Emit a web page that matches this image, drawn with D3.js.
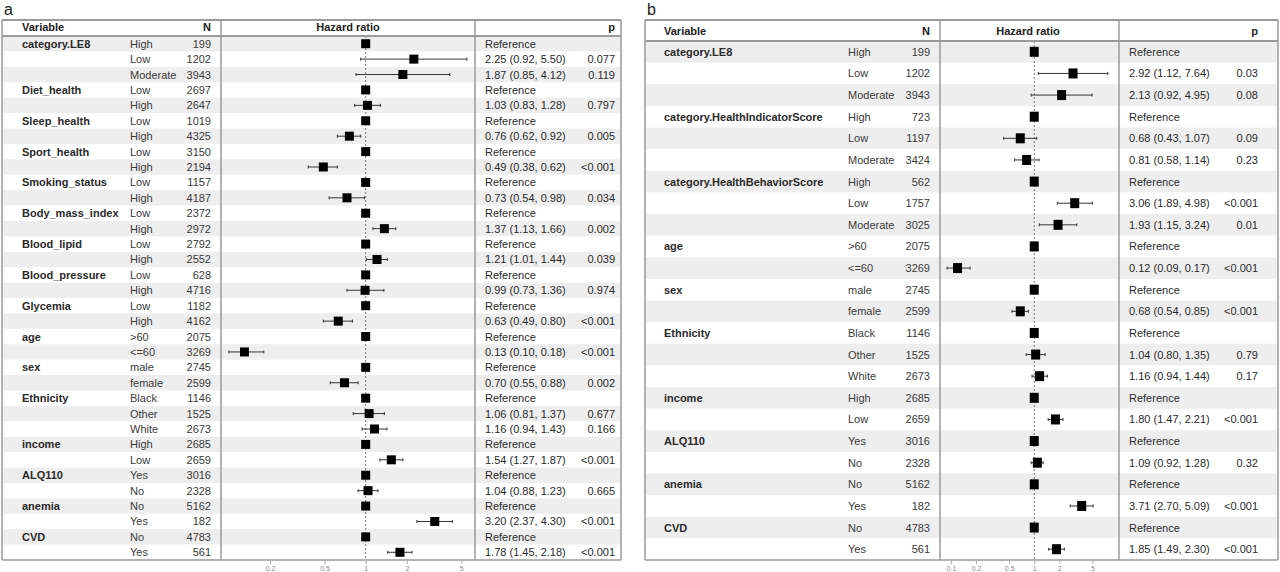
<!DOCTYPE html>
<html><head><meta charset="utf-8">
<script src="https://cdn.jsdelivr.net/npm/d3@7"></script>
<style>body{margin:0;background:#fff}svg{display:block;font-family:"Liberation Sans",Arial,sans-serif}</style>
</head><body><svg id="c" width="1280" height="572"></svg>
<script>
// ---------- Panel a data ----------
const aVariable = ["category.LE8","","","Diet_health","","Sleep_health","","Sport_health","","Smoking_status","","Body_mass_index","","Blood_lipid","","Blood_pressure","","Glycemia","","age","","sex","","Ethnicity","","","income","","ALQ110","","anemia","","CVD",""];
const aLevel = ["High","Low","Moderate","Low","High","Low","High","Low","High","Low","High","Low","High","Low","High","Low","High","Low","High",">60","<=60","male","female","Black","Other","White","High","Low","Yes","No","No","Yes","No","Yes"];
const aN = [199,1202,3943,2697,2647,1019,4325,3150,2194,1157,4187,2372,2972,2792,2552,628,4716,1182,4162,2075,3269,2745,2599,1146,1525,2673,2685,2659,3016,2328,5162,182,4783,561];
const aHR = [1,2.25,1.87,1,1.03,1,0.76,1,0.49,1,0.73,1,1.37,1,1.21,1,0.99,1,0.63,1,0.13,1,0.70,1,1.06,1.16,1,1.54,1,1.04,1,3.20,1,1.78];
const aLo = [null,0.92,0.85,null,0.83,null,0.62,null,0.38,null,0.54,null,1.13,null,1.01,null,0.73,null,0.49,null,0.10,null,0.55,null,0.81,0.94,null,1.27,null,0.88,null,2.37,null,1.45];
const aHi = [null,5.50,4.12,null,1.28,null,0.92,null,0.62,null,0.98,null,1.66,null,1.44,null,1.36,null,0.80,null,0.18,null,0.88,null,1.37,1.43,null,1.87,null,1.23,null,4.30,null,2.18];
const aP = ["","0.077","0.119","","0.797","","0.005","","<0.001","","0.034","","0.002","","0.039","","0.974","","<0.001","","<0.001","","0.002","","0.677","0.166","","<0.001","","0.665","","<0.001","","<0.001"];
const aTicks = [0.2,0.5,1,2,5];

// ---------- Panel b data ----------
const bVariable = ["category.LE8","","","category.HealthIndicatorScore","","","category.HealthBehaviorScore","","","age","","sex","","Ethnicity","","","income","","ALQ110","","anemia","","CVD",""];
const bLevel = ["High","Low","Moderate","High","Low","Moderate","High","Low","Moderate",">60","<=60","male","female","Black","Other","White","High","Low","Yes","No","No","Yes","No","Yes"];
const bN = [199,1202,3943,723,1197,3424,562,1757,3025,2075,3269,2745,2599,1146,1525,2673,2685,2659,3016,2328,5162,182,4783,561];
const bHR = [1,2.92,2.13,1,0.68,0.81,1,3.06,1.93,1,0.12,1,0.68,1,1.04,1.16,1,1.80,1,1.09,1,3.71,1,1.85];
const bLo = [null,1.12,0.92,null,0.43,0.58,null,1.89,1.15,null,0.09,null,0.54,null,0.80,0.94,null,1.47,null,0.92,null,2.70,null,1.49];
const bHi = [null,7.64,4.95,null,1.07,1.14,null,4.98,3.24,null,0.17,null,0.85,null,1.35,1.44,null,2.21,null,1.28,null,5.09,null,2.30];
const bP = ["","0.03","0.08","","0.09","0.23","","<0.001","0.01","","<0.001","","<0.001","","0.79","0.17","","<0.001","","0.32","","<0.001","","<0.001"];
const bTicks = [0.1,0.2,0.5,1,2,5];

const svg = d3.select("#c");

function panel(cfg, d) {
  const g = svg.append("g");
  const n = d.level.length;
  const y = d3.scaleBand().domain(d3.range(n)).range([cfg.headBot, cfg.bottom]);
  const x = d3.scaleLog().domain(cfg.domain).range([cfg.plotL, cfg.plotR]);
  // label
  g.append("text").attr("x", cfg.left + 2).attr("y", 15).attr("font-size", 16).attr("fill", "#222").text(cfg.tag);
  // row stripes
  g.selectAll("rect.stripe").data(d3.range(n).filter(i => i % 2 === 0)).join("rect")
    .attr("x", cfg.left).attr("width", cfg.right - cfg.left)
    .attr("y", i => y(i)).attr("height", y.bandwidth()).attr("fill", "#eeeeee");
  // header
  const hy = cfg.headY;
  g.append("text").attr("x", cfg.varX).attr("y", hy).attr("font-size", 11).attr("font-weight", "bold").attr("fill", "#222").text("Variable");
  g.append("text").attr("x", cfg.nX).attr("y", hy).attr("text-anchor", "end").attr("font-size", 11).attr("font-weight", "bold").attr("fill", "#222").text("N");
  g.append("text").attr("x", cfg.hrTitleX).attr("y", hy).attr("text-anchor", "middle").attr("font-size", 11).attr("font-weight", "bold").attr("fill", "#222").text("Hazard ratio");
  g.append("text").attr("x", cfg.pX).attr("y", hy).attr("text-anchor", "end").attr("font-size", 11).attr("font-weight", "bold").attr("fill", "#222").text("p");
  // reference line
  g.append("line").attr("x1", x(1)).attr("x2", x(1)).attr("y1", cfg.headBot).attr("y2", cfg.bottom)
    .attr("stroke", "#777").attr("stroke-width", 1).attr("stroke-dasharray", "2,2");
  const ty = i => y(i) + y.bandwidth() / 2 + 4;
  const rows = g.selectAll("g.row").data(d3.range(n)).join("g");
  rows.append("text").attr("x", cfg.varX).attr("y", ty).attr("font-size", 11).attr("font-weight", "bold").attr("fill", "#2a2a2a").text(i => d.variable[i]);
  rows.append("text").attr("x", cfg.levX).attr("y", ty).attr("font-size", 11).attr("fill", "#3a3a3a").text(i => d.level[i]);
  rows.append("text").attr("x", cfg.nX).attr("y", ty).attr("text-anchor", "end").attr("font-size", 11).attr("fill", "#3a3a3a").text(i => d.N[i]);
  rows.append("text").attr("x", cfg.estX).attr("y", ty).attr("font-size", 11).attr("fill", "#2a2a2a")
    .text(i => d.lo[i] == null ? "Reference" : `${d.hr[i].toFixed(2)} (${d.lo[i].toFixed(2)}, ${d.hi[i].toFixed(2)})`);
  rows.append("text").attr("x", cfg.pX).attr("y", ty).attr("text-anchor", "end").attr("font-size", 11).attr("fill", "#2a2a2a").text(i => d.p[i]);
  // CI whiskers
  const ci = rows.filter(i => d.lo[i] != null);
  const cy = i => y(i) + y.bandwidth() / 2;
  ci.append("line").attr("x1", i => x(d.lo[i])).attr("x2", i => x(d.hi[i])).attr("y1", cy).attr("y2", cy).attr("stroke", "#333").attr("stroke-width", 1);
  ci.append("line").attr("x1", i => x(d.lo[i])).attr("x2", i => x(d.lo[i])).attr("y1", i => cy(i) - 1.5).attr("y2", i => cy(i) + 1.5).attr("stroke", "#333");
  ci.append("line").attr("x1", i => x(d.hi[i])).attr("x2", i => x(d.hi[i])).attr("y1", i => cy(i) - 1.5).attr("y2", i => cy(i) + 1.5).attr("stroke", "#333");
  // boxes
  rows.append("rect").attr("x", i => x(d.hr[i]) - cfg.bw / 2).attr("y", i => cy(i) - cfg.bh / 2)
    .attr("width", cfg.bw).attr("height", cfg.bh).attr("fill", "#000");
  // borders
  const line = (x1, y1, x2, y2, w) => g.append("line").attr("x1", x1).attr("y1", y1).attr("x2", x2).attr("y2", y2).attr("stroke", "#9a9a9a").attr("stroke-width", w);
  line(cfg.left, cfg.top, cfg.right, cfg.top, 2);
  line(cfg.left, cfg.headBot, cfg.right, cfg.headBot, 2);
  line(cfg.left, cfg.bottom, cfg.right, cfg.bottom, 1.5);
  line(cfg.left, cfg.top, cfg.left, cfg.bottom, 1.5);
  line(cfg.right, cfg.top, cfg.right, cfg.bottom, 1.5);
  line(cfg.plotL, cfg.top, cfg.plotL, cfg.bottom, 1.5);
  line(cfg.plotR, cfg.top, cfg.plotR, cfg.bottom, 1.5);
  // axis
  const ax = g.append("g").attr("transform", `translate(0,${cfg.bottom + 1})`)
    .call(d3.axisBottom(x).tickValues(cfg.ticks).tickFormat(d3.format("~g")).tickSize(3).tickPadding(2));
  ax.select(".domain").remove();
  ax.selectAll(".tick line").attr("stroke", "#aaa");
  ax.selectAll(".tick text").attr("fill", "#888").attr("font-size", 7).attr("font-family", "Liberation Sans, Arial, sans-serif");
}

panel({tag: "a", left: 2, right: 621, top: 20, headBot: 36, bottom: 560, headY: 31,
  varX: 22, levX: 130, nX: 211, plotL: 221, plotR: 475, estX: 485, pX: 615, hrTitleX: 348,
  domain: [0.0875, 6.3], ticks: aTicks, bw: 9, bh: 9},
  {variable: aVariable, level: aLevel, N: aN, hr: aHR, lo: aLo, hi: aHi, p: aP});

panel({tag: "b", left: 645, right: 1278, top: 20, headBot: 41, bottom: 560, headY: 35,
  varX: 664, levX: 848, nX: 930, plotL: 940, plotR: 1119, estX: 1129, pX: 1258, hrTitleX: 1028,
  domain: [0.074, 10.4], ticks: bTicks, bw: 9, bh: 10},
  {variable: bVariable, level: bLevel, N: bN, hr: bHR, lo: bLo, hi: bHi, p: bP});
</script></body></html>
